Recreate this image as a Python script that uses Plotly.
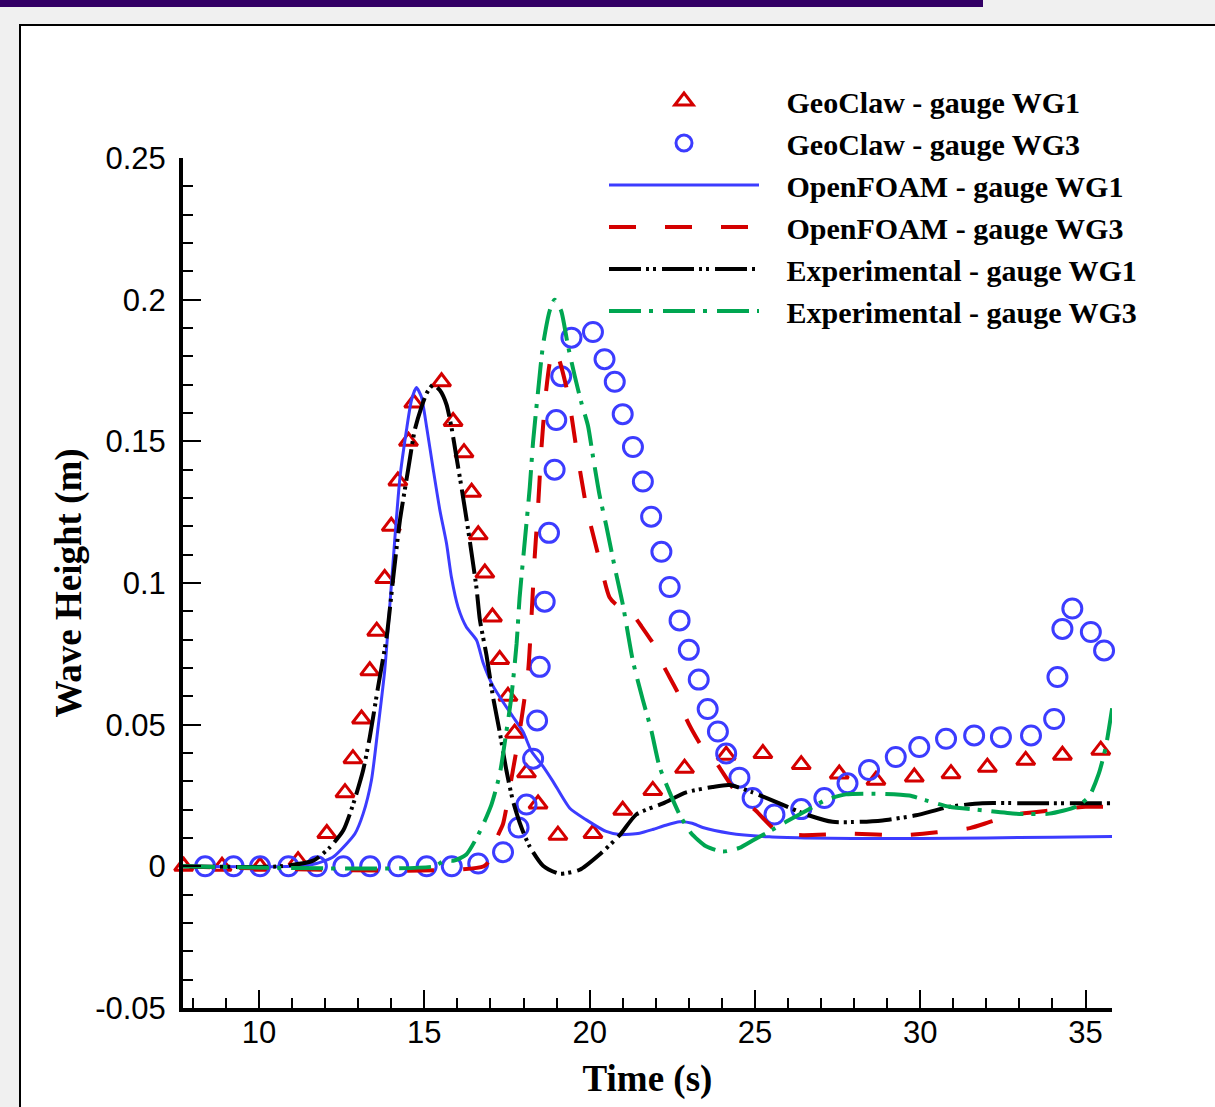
import plotly.graph_objects as go

# ---------------- data ----------------
geo_wg1_t = [7.72, 8.88, 10.03, 11.18, 12.05, 12.6, 12.84, 13.1, 13.35, 13.56, 13.8, 14.0, 14.2,
             14.52, 14.68, 15.52, 15.87, 16.2, 16.43, 16.63, 16.83, 17.06, 17.28, 17.53, 17.73,
             18.09, 18.44, 19.04, 20.1, 21.0, 21.91, 22.87, 24.13, 25.24, 26.4, 27.55, 28.66,
             29.82, 30.93, 32.03, 33.19, 34.3, 35.46]
geo_wg1_h = [0.0, 0.0, 0.0, 0.002, 0.0116, 0.026, 0.038, 0.052, 0.069, 0.083, 0.1016, 0.120, 0.136,
             0.150, 0.1635, 0.171, 0.157, 0.146, 0.132, 0.117, 0.1035, 0.088, 0.073, 0.060, 0.047,
             0.033, 0.022, 0.011, 0.0116, 0.0198, 0.0268, 0.0346, 0.0392, 0.0398, 0.0359, 0.0326, 0.0304,
             0.0315, 0.0327, 0.035, 0.0374, 0.0392, 0.041]

geo_wg3_t = [8.37, 9.23, 10.03, 10.89, 11.75, 12.55, 13.36, 14.21, 15.07, 15.83, 16.63, 17.38, 17.85,
             18.09, 18.29, 18.41, 18.49, 18.64, 18.77, 18.94, 18.99, 19.14, 19.45, 20.1, 20.45, 20.76,
             21.0, 21.31, 21.61, 21.86, 22.17, 22.42, 22.72, 23.0, 23.3, 23.57, 23.88, 24.13, 24.53,
             24.93, 25.59, 26.4, 27.1, 27.8, 28.45, 29.26, 29.97, 30.78, 31.63, 32.44, 33.35, 34.05,
             34.15, 34.3, 34.6, 35.16, 35.56]
geo_wg3_h = [0.0, 0.0, 0.0, 0.0, 0.0, 0.0, 0.0, 0.0, 0.0, 0.0, 0.001, 0.005, 0.0137,
             0.0218, 0.038, 0.0515, 0.0704, 0.0934, 0.1177, 0.140, 0.1575, 0.173, 0.1866, 0.1886, 0.179, 0.171,
             0.1596, 0.148, 0.1358, 0.1234, 0.111, 0.0986, 0.0868, 0.0764, 0.0659, 0.0555, 0.0476, 0.0398, 0.0313,
             0.0241, 0.0183, 0.0202, 0.0241, 0.0293, 0.034, 0.0386, 0.0421, 0.045, 0.0462, 0.0456, 0.0462, 0.052,
             0.0668, 0.0838, 0.091, 0.0827, 0.0762]

of_wg1_t = [7.7, 11.0, 11.74, 12.24, 12.65, 12.9, 13.15, 13.4, 13.6, 13.8, 13.96, 14.11, 14.26, 14.46,
            14.61, 14.76, 14.91, 15.07, 15.27, 15.47, 15.67, 15.82, 16.02, 16.27, 16.58, 16.78, 17.08,
            17.38, 17.68, 17.99, 18.24, 18.59, 18.89, 19.4, 19.9, 20.5, 20.91, 21.51, 21.91, 22.3, 22.72,
            23.1, 23.42, 24.23, 25.44, 26.5, 27.96, 30.0, 32.0, 34.0, 35.8]
of_wg1_h = [0.0, 0.0, 0.001, 0.0033, 0.008, 0.0115, 0.0186, 0.0304, 0.049, 0.069, 0.0927, 0.116, 0.137, 0.154,
            0.1645, 0.169, 0.1657, 0.155, 0.14, 0.1257, 0.114, 0.102, 0.0915, 0.0845, 0.0798, 0.0718, 0.0636,
            0.058, 0.0528, 0.0474, 0.0406, 0.0353, 0.030, 0.0205, 0.0164, 0.0123, 0.0112, 0.0117, 0.013, 0.0145, 0.0157,
            0.0152, 0.0137, 0.0117, 0.0104, 0.0100, 0.0098, 0.0098, 0.0100, 0.0103, 0.0105]

of_wg3_t = [7.7, 16.8, 17.05, 17.23, 17.38, 17.68, 17.88, 18.14, 18.24, 18.34, 18.44, 18.54, 18.67, 18.8,
            18.94, 19.1, 19.35, 19.6, 19.9, 20.3, 20.6, 20.85, 21.05, 21.3, 21.55, 22.01, 22.22, 22.72,
            22.92, 23.42, 23.83, 24.43, 25.03, 25.74, 26.45, 27.85, 29.5, 30.5, 31.5, 32.2, 33.0, 34.0,
            35.0, 35.8]
of_wg3_h = [0.0, 0.0, 0.004, 0.011, 0.015, 0.034, 0.0474, 0.069, 0.088, 0.1096, 0.127, 0.1474, 0.1663, 0.178,
            0.1825, 0.178, 0.1663, 0.1474, 0.127, 0.108, 0.095, 0.092, 0.0925, 0.089, 0.085, 0.077, 0.0711, 0.060,
            0.0522, 0.0418, 0.0365, 0.0261, 0.0196, 0.0117, 0.011, 0.0115, 0.011, 0.012, 0.0135, 0.016, 0.0185, 0.0198,
            0.021, 0.021]

exp_wg1_t = [7.7, 10.63, 11.64, 12.15, 12.55, 12.85, 13.15, 13.35, 13.6, 13.86, 14.06, 14.26, 14.51, 14.71,
             14.91, 15.07, 15.27, 15.47, 15.67, 15.82, 15.97, 16.12, 16.27, 16.43, 16.58, 16.68, 16.88,
             17.08, 17.28, 17.48, 17.68, 17.94, 18.19, 18.59, 19.09, 19.7, 20.3, 20.91, 21.41, 22.22,
             22.92, 23.72, 24.23, 24.93, 25.74, 26.55, 27.35, 28.16, 28.86, 29.87, 30.88, 31.88, 33.0, 35.8]
exp_wg1_h = [0.0, 0.0, 0.002, 0.0068, 0.0127, 0.022, 0.034, 0.0456, 0.0633, 0.081, 0.102, 0.122, 0.14, 0.154,
             0.162, 0.167, 0.170, 0.168, 0.163, 0.155, 0.1445, 0.134, 0.123, 0.1104, 0.098, 0.087, 0.0745,
             0.0596, 0.0474, 0.034, 0.0231, 0.0136, 0.0069, 0.0002, -0.0026, -0.0012, 0.0042, 0.011, 0.0183, 0.0222,
             0.0261, 0.028, 0.0287, 0.0261, 0.0222, 0.0183, 0.0157, 0.0157, 0.0162, 0.018, 0.021, 0.0223, 0.0223, 0.0223]

exp_wg3_t = [7.7, 15.3, 15.6, 15.9, 16.27, 16.68, 17.03, 17.28, 17.48, 17.63, 17.79, 17.88, 18.04, 18.19,
             18.29, 18.44, 18.59, 18.79, 18.94, 19.14, 19.34, 19.55, 19.75, 19.95, 20.1, 20.3, 20.5, 20.76,
             21.01, 21.31, 21.61, 21.86, 22.11, 22.42, 22.72, 23.07, 23.52, 24.03, 24.53, 24.93, 25.34,
             25.94, 26.55, 27.15, 27.75, 28.86, 29.67, 30.17, 30.88, 31.88, 32.9, 33.9, 34.7, 35.1, 35.4,
             35.61, 35.81]
exp_wg3_h = [0.0, 0.0, 0.002, 0.002, 0.0042, 0.0123, 0.0218, 0.0325, 0.0474, 0.0596, 0.0785, 0.0947, 0.115, 0.1339,
             0.150, 0.1677, 0.184, 0.196, 0.200, 0.196, 0.184, 0.173, 0.1636, 0.1555, 0.1447, 0.131, 0.1204, 0.1055,
             0.092, 0.0724, 0.0587, 0.0482, 0.0353, 0.0261, 0.0183, 0.0117, 0.0071, 0.0052, 0.0065, 0.0091, 0.0117,
             0.0157, 0.0196, 0.0235, 0.0254, 0.0256, 0.025, 0.0233, 0.021, 0.0198, 0.0186, 0.0186, 0.021, 0.0245, 0.0327,
             0.042, 0.0562]

series_names = ["GeoClaw - gauge WG1", "GeoClaw - gauge WG3", "OpenFOAM - gauge WG1",
                "OpenFOAM - gauge WG3", "Experimental - gauge WG1", "Experimental - gauge WG3"]

x_tick_vals = [10, 15, 20, 25, 30, 35]
x_tick_text = ["10", "15", "20", "25", "30", "35"]
y_tick_vals = [-0.05, 0, 0.05, 0.1, 0.15, 0.2, 0.25]
y_tick_text = ["-0.05", "0", "0.05", "0.1", "0.15", "0.2", "0.25"]

x_title = "Time (s)"
y_title = "Wave Height (m)"

# ---------------- styles ----------------
RED = "#d40000"
BLUE = "#3c3cff"
GREEN = "#00a651"
BLACK = "#000000"

W, H = 1215, 1107
ML, MR, MT, MB = 183, 103, 158, 99
PW, PH = W - ML - MR, H - MT - MB
PAD = "\u00a0\u00a0\u00a0"   # gap between legend sample and legend text


def px_x(p):
    return (p - ML) / PW


def px_y(p):
    return (H - MB - p) / PH


fig = go.Figure()
fig.add_trace(go.Scatter(x=geo_wg1_t, y=geo_wg1_h, mode="markers", name=PAD + series_names[0],
                         cliponaxis=False,
                         marker=dict(symbol="triangle-up-open", size=16, color=RED,
                                     line=dict(width=3, color=RED))))
fig.add_trace(go.Scatter(x=geo_wg3_t, y=geo_wg3_h, mode="markers", name=PAD + series_names[1],
                         cliponaxis=False,
                         marker=dict(symbol="circle-open", size=19, color=BLUE,
                                     line=dict(width=3, color=BLUE))))
fig.add_trace(go.Scatter(x=of_wg1_t, y=of_wg1_h, mode="lines", name=PAD + series_names[2],
                         line=dict(color=BLUE, width=3, shape="spline", smoothing=0.6)))
fig.add_trace(go.Scatter(x=of_wg3_t, y=of_wg3_h, mode="lines", name=PAD + series_names[3],
                         line=dict(color=RED, width=4, dash="27px,29px", shape="spline", smoothing=0.6)))
fig.add_trace(go.Scatter(x=exp_wg1_t, y=exp_wg1_h, mode="lines", name=PAD + series_names[4],
                         line=dict(color=BLACK, width=4, dash="32px,5px,3px,4px,3px,6px",
                                   shape="spline", smoothing=0.6)))
fig.add_trace(go.Scatter(x=exp_wg3_t, y=exp_wg3_h, mode="lines", name=PAD + series_names[5],
                         line=dict(color=GREEN, width=4, dash="32px,8px,4px,10px",
                                   shape="spline", smoothing=0.6)))

tick_font = dict(family="Liberation Sans, Arial, sans-serif", size=31, color="black")
title_font = dict(family="Liberation Serif, Times New Roman, serif", size=37, color="black", weight="bold")

fig.update_xaxes(range=[7.7, 35.8], tickmode="array", tickvals=x_tick_vals, ticktext=x_tick_text,
                 ticks="inside", ticklen=18, tickwidth=2, tickcolor="black",
                 minor=dict(tickmode="linear", tick0=0, dtick=1, ticks="inside", ticklen=10,
                            tickwidth=2, tickcolor="black", showgrid=False),
                 showline=True, linewidth=4, linecolor="black", mirror=False,
                 showgrid=False, zeroline=False, tickfont=tick_font, ticklabelstandoff=-6,
                 title=dict(text=x_title, font=title_font, standoff=17))
fig.update_yaxes(range=[-0.05, 0.25], tickmode="array", tickvals=y_tick_vals, ticktext=y_tick_text,
                 ticks="inside", ticklen=18, tickwidth=2, tickcolor="black",
                 minor=dict(tickmode="linear", tick0=0, dtick=0.01, ticks="inside", ticklen=10,
                            tickwidth=2, tickcolor="black", showgrid=False),
                 showline=True, linewidth=4, linecolor="black", mirror=False,
                 showgrid=False, zeroline=False, tickfont=tick_font, ticklabelstandoff=7,
                 title=dict(text=y_title, font=title_font, standoff=3))

fig.update_layout(
    width=W, height=H,
    margin=dict(l=ML, r=MR, t=MT, b=MB, autoexpand=False),
    paper_bgcolor="#f0f0f0",
    plot_bgcolor="rgba(0,0,0,0)",
    showlegend=True,
    legend=dict(x=px_x(604), y=px_y(75), xanchor="left", yanchor="top",
                bgcolor="rgba(0,0,0,0)", borderwidth=0, itemwidth=150,
                font=dict(family="Liberation Serif, Times New Roman, serif", size=30,
                          color="black", weight="bold")),
    shapes=[
        dict(type="rect", xref="paper", yref="paper", layer="below",
             x0=px_x(20), x1=px_x(1240), y0=px_y(1130), y1=px_y(25),
             fillcolor="white", line=dict(color="black", width=2)),
        dict(type="rect", xref="paper", yref="paper", layer="below",
             x0=px_x(-5), x1=px_x(983), y0=px_y(7), y1=px_y(-5),
             fillcolor="#330066", line=dict(width=0)),
    ],
)

fig.write_html("out.html", config={"displayModeBar": False},
               post_script="document.body.style.margin='0';")
